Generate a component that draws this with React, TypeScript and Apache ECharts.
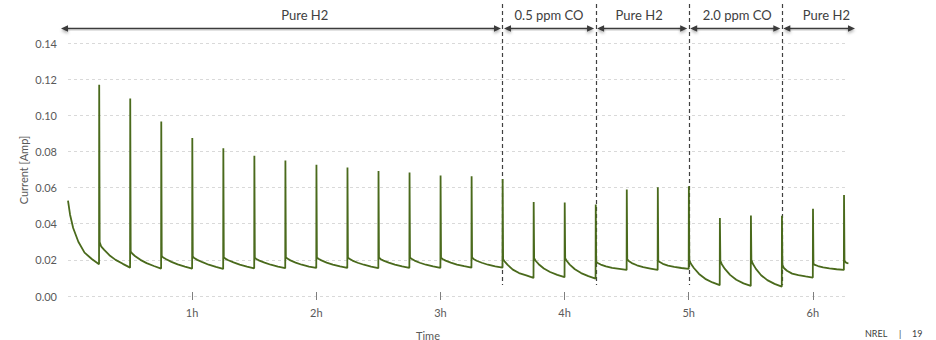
import { useEffect, useRef } from "react";
import * as echarts from "echarts";

// ---- Data (minutes, Amp) ----
const xTickMinutes = [60, 120, 180, 240, 300, 360];
const xMax = 377;

const firstOffsets = [0, 1, 2.5, 5, 8, 11.5, 15];
const firstValues = [0.0528, 0.045, 0.0376, 0.03, 0.024, 0.0205, 0.0176];

const spikeTimes = [15, 30, 45, 60, 75, 90, 105, 120, 135, 150, 165, 180, 195, 210, 225, 240, 255, 270, 285, 300, 315, 330, 345, 360, 375];
const spikePeaks = [0.1169, 0.1093, 0.0965, 0.0874, 0.0817, 0.0776, 0.075, 0.0726, 0.0711, 0.0691, 0.0683, 0.0667, 0.0663, 0.0648, 0.052, 0.0517, 0.0506, 0.0589, 0.0602, 0.0607, 0.0431, 0.0446, 0.0444, 0.0483, 0.0559];

const cycleOffsets = [0.3, 1, 2.5, 5, 8, 11.5, 15];
const cycleValues = [
  [0.0298, 0.0275, 0.0255, 0.0226, 0.02, 0.0178, 0.0157],
  [0.0246, 0.0235, 0.022, 0.02, 0.0182, 0.0166, 0.0152],
  [0.0222, 0.0213, 0.0203, 0.0189, 0.0175, 0.0163, 0.0152],
  [0.0219, 0.021, 0.02, 0.0187, 0.0173, 0.0161, 0.015],
  [0.0215, 0.0207, 0.0198, 0.0186, 0.0174, 0.0163, 0.0153],
  [0.0212, 0.0205, 0.0196, 0.0185, 0.0173, 0.0163, 0.0154],
  [0.0215, 0.0207, 0.0197, 0.0185, 0.0173, 0.0163, 0.0155],
  [0.0213, 0.0206, 0.0197, 0.0185, 0.0174, 0.0164, 0.0155],
  [0.0214, 0.0206, 0.0196, 0.0184, 0.0173, 0.0163, 0.0154],
  [0.0213, 0.0205, 0.0196, 0.0185, 0.0174, 0.0164, 0.0156],
  [0.0214, 0.0206, 0.0196, 0.0184, 0.0173, 0.0164, 0.0156],
  [0.0212, 0.0205, 0.0196, 0.0185, 0.0174, 0.0165, 0.0157],
  [0.0213, 0.0205, 0.0195, 0.0184, 0.0173, 0.0164, 0.0157],
  [0.0204, 0.0192, 0.0172, 0.0146, 0.0127, 0.0114, 0.01],
  [0.0209, 0.0195, 0.0176, 0.0152, 0.0133, 0.0117, 0.0104],
  [0.021, 0.0195, 0.0174, 0.0148, 0.0127, 0.011, 0.0096],
  [0.019, 0.0183, 0.0174, 0.0164, 0.0156, 0.015, 0.0144],
  [0.0204, 0.0194, 0.0182, 0.017, 0.016, 0.0152, 0.0144],
  [0.0196, 0.0188, 0.0178, 0.0168, 0.0161, 0.0155, 0.015],
  [0.02, 0.018, 0.0155, 0.0122, 0.0095, 0.0075, 0.006],
  [0.0196, 0.0176, 0.015, 0.0117, 0.009, 0.007, 0.0056],
  [0.02, 0.0178, 0.015, 0.0115, 0.0088, 0.0067, 0.0052],
  [0.0172, 0.0155, 0.014, 0.0124, 0.0115, 0.0108, 0.0102],
  [0.0178, 0.0172, 0.0166, 0.0159, 0.0153, 0.0148, 0.0144],
];
const lastOffsets = [0.3, 1, 2.2];
const lastValues = [0.0196, 0.0185, 0.018];

const phaseSwitches = [210, 255, 300, 345];
const phaseLabels = ["Pure H2", "0.5 ppm CO", "Pure H2", "2.0 ppm CO", "Pure H2"];

const FONT = "Lato, 'Open Sans', sans-serif";

function buildSeries(): number[][] {
  const data: number[][] = firstOffsets.map((o, i) => [o, firstValues[i]]);
  spikeTimes.forEach((t, i) => {
    data.push([t + 0.08, spikePeaks[i]]);
    const offs = i < cycleValues.length ? cycleOffsets : lastOffsets;
    const vals = i < cycleValues.length ? cycleValues[i] : lastValues;
    offs.forEach((o, j) => data.push([t + o, vals[j]]));
  });
  return data;
}

export default function App() {
  const ref = useRef<HTMLDivElement>(null);
  useEffect(() => {
    if (!ref.current) return;
    const chart = echarts.init(ref.current, null, { renderer: "svg" });
    chart.setOption({
      animation: false,
      grid: { left: 68, right: 88, top: 43, bottom: 44 },
      xAxis: {
        type: "value",
        min: 0,
        max: xMax,
        interval: 60,
        offset: -4,
        axisLine: { show: false },
        splitLine: { show: false },
        axisTick: {
          show: true,
          length: 8,
          customValues: xTickMinutes,
          lineStyle: { color: "#7f7f7f", width: 1 },
        },
        axisLabel: {
          customValues: xTickMinutes,
          margin: 15,
          fontSize: 11,
          fontFamily: FONT,
          color: "#595959",
          formatter: (v: number) => `${v / 60}h`,
        },
      },
      yAxis: {
        type: "value",
        min: 0,
        max: 0.14,
        interval: 0.02,
        axisLine: { show: false },
        axisTick: { show: false },
        axisLabel: {
          margin: 11,
          fontSize: 11,
          fontFamily: FONT,
          color: "#595959",
          formatter: (v: number) => v.toFixed(2),
        },
        splitLine: { lineStyle: { color: "#d9d9d9", type: [3, 3], width: 1 } },
      },
      series: [
        {
          type: "line",
          data: buildSeries(),
          showSymbol: false,
          symbol: "none",
          lineStyle: { color: "#4a6a1c", width: 1.8 },
        },
      ],
    });

    const px = (t: number) => chart.convertToPixel({ xAxisIndex: 0 }, t) as number;
    const bounds = [px(0) - 7, ...phaseSwitches.map(px), px(xMax) + 7];
    const labelShift = [23, 0, -3, 2, 8];
    const arrowY = 28.5;
    const arrowColor = "#3a3a3a";
    const shadow = { shadowBlur: 3, shadowColor: "rgba(0,0,0,0.3)", shadowOffsetY: 2 };
    const elements: any[] = [];
    for (let i = 0; i < bounds.length - 1; i++) {
      const a = bounds[i] + (i === 0 ? 0 : 1.5);
      const b = bounds[i + 1] - (i === bounds.length - 2 ? 0 : 1.5);
      elements.push({
        type: "rect",
        shape: { x: a + 3, y: arrowY - 0.75, width: b - a - 6, height: 1.5 },
        style: { fill: arrowColor, ...shadow },
        silent: true,
      });
      elements.push({
        type: "polygon",
        shape: { points: [[a, arrowY], [a + 7, arrowY - 3.2], [a + 7, arrowY + 3.2]] },
        style: { fill: arrowColor, ...shadow },
        silent: true,
      });
      elements.push({
        type: "polygon",
        shape: { points: [[b, arrowY], [b - 7, arrowY - 3.2], [b - 7, arrowY + 3.2]] },
        style: { fill: arrowColor, ...shadow },
        silent: true,
      });
      elements.push({
        type: "text",
        x: (bounds[i] + bounds[i + 1]) / 2 + labelShift[i],
        y: 14.5,
        style: {
          text: phaseLabels[i],
          fontSize: 13,
          fontFamily: FONT,
          fill: "#404040",
          align: "center",
          verticalAlign: "middle",
        },
        silent: true,
      });
    }
    phaseSwitches.forEach((t) => {
      const x = Math.round(px(t)) + 0.5;
      elements.push({
        type: "line",
        shape: { x1: x, y1: 4, x2: x, y2: 285 },
        style: { stroke: "#404040", lineWidth: 1.2, lineDash: [4, 3] },
        silent: true,
      });
    });
    elements.push(
      {
        type: "text",
        x: 428,
        y: 335,
        style: { text: "Time", fontSize: 11, fontFamily: FONT, fill: "#595959", align: "center", verticalAlign: "middle" },
      },
      {
        type: "text",
        x: 23,
        y: 170,
        rotation: Math.PI / 2,
        style: { text: "Current [Amp]", fontSize: 11, fontFamily: FONT, fill: "#595959", align: "center", verticalAlign: "middle" },
      },
      {
        type: "text",
        x: 865,
        y: 333,
        style: { text: "NREL", fontSize: 9, fontFamily: FONT, fill: "#404040", align: "left", verticalAlign: "middle" },
      },
      {
        type: "text",
        x: 900,
        y: 333,
        style: { text: "|", fontSize: 9, fontFamily: FONT, fill: "#404040", align: "center", verticalAlign: "middle" },
      },
      {
        type: "text",
        x: 912,
        y: 333,
        style: { text: "19", fontSize: 9, fontFamily: FONT, fill: "#404040", align: "left", verticalAlign: "middle" },
      }
    );
    chart.setOption({ graphic: { elements } });
    return () => chart.dispose();
  }, []);
  return (
    <div
      ref={ref}
      style={{ position: "fixed", left: 0, top: 0, width: 936, height: 340, background: "#ffffff" }}
    />
  );
}
